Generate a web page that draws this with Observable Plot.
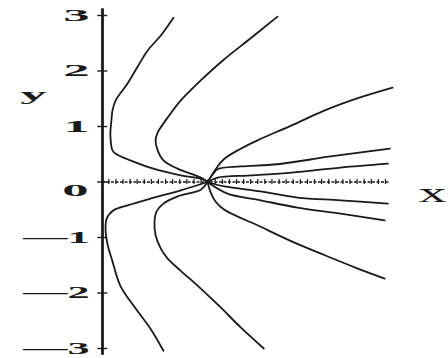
<!DOCTYPE html>
<html>
<head>
<meta charset="utf-8">
<script src="https://cdn.jsdelivr.net/npm/d3@7"></script>
<script src="https://cdn.jsdelivr.net/npm/@observablehq/plot@0.6"></script>
<style>
  html, body { margin: 0; padding: 0; background: #fff; }
  svg { display: block; background: #fff; }
</style>
</head>
<body>
<div id="chart"></div>
<script>
// Tick values and labels
const yTicks = [3, 2, 1, -1, -2, -3];
const yTickLabels = ["3", "2", "1", "—1", "—2", "—3"];
const zeroLabel = ["0"];
const xAxisLabel = ["x"];
const yAxisLabel = ["y"];
const xAxisExtent = [0, 5.47];
const xAxisTicks = d3.range(0.12, 5.47, 0.135);

// Solution curves, all meeting at (2, 0)
const curveA_x = [1.35, 1.11, 0.86, 0.67, 0.48, 0.25, 0.19, 0.17, 0.15, 0.19, 0.25, 0.53, 0.97, 1.49, 1.87, 2.0];
const curveA_y = [2.96, 2.64, 2.37, 2.08, 1.78, 1.47, 1.29, 1.11, 0.84, 0.57, 0.51, 0.39, 0.24, 0.12, 0.06, 0];
const curveB_x = [3.33, 2.82, 2.29, 1.87, 1.49, 1.24, 1.05, 1.01, 1.05, 1.16, 1.43, 1.87, 2.0];
const curveB_y = [2.98, 2.59, 2.19, 1.83, 1.47, 1.16, 0.89, 0.75, 0.57, 0.39, 0.24, 0.08, 0];
const curveC_x = [2.0, 1.49, 0.91, 0.48, 0.21, 0.08, 0.06, 0.10, 0.19, 0.34, 0.67, 0.91, 1.16];
const curveC_y = [0, -0.15, -0.30, -0.42, -0.51, -0.66, -0.89, -1.14, -1.43, -1.87, -2.33, -2.64, -3.04];
const curveD_x = [2.0, 1.87, 1.43, 1.16, 1.03, 0.99, 1.01, 1.11, 1.24, 1.49, 1.87, 2.25, 2.63, 3.07];
const curveD_y = [0, -0.14, -0.26, -0.39, -0.53, -0.71, -0.96, -1.20, -1.38, -1.60, -1.92, -2.26, -2.62, -3.0];
const curveE_x = [2.0, 2.08, 2.19, 2.32, 2.63, 2.95, 3.60, 4.23, 4.86, 5.52];
const curveE_y = [0, 0.12, 0.28, 0.42, 0.60, 0.75, 1.02, 1.29, 1.51, 1.70];
const curveF_x = [2.0, 2.10, 2.19, 2.63, 3.33, 4.34, 5.47];
const curveF_y = [0, 0.14, 0.23, 0.28, 0.32, 0.46, 0.60];
const curveG_x = [2.0, 2.19, 2.82, 3.60, 4.53, 5.43];
const curveG_y = [0, 0.08, 0.12, 0.17, 0.26, 0.33];
const curveH_x = [2.0, 2.32, 3.01, 3.71, 4.53, 5.43];
const curveH_y = [0, -0.08, -0.17, -0.28, -0.33, -0.39];
const curveI_x = [2.0, 2.38, 3.01, 3.71, 4.53, 5.37];
const curveI_y = [0, -0.21, -0.33, -0.46, -0.57, -0.69];
const curveJ_x = [2.0, 2.06, 2.15, 2.32, 2.95, 3.60, 4.23, 4.86, 5.37];
const curveJ_y = [0, -0.19, -0.35, -0.50, -0.78, -1.07, -1.32, -1.56, -1.74];

const curves = [
  ["A", curveA_x, curveA_y], ["B", curveB_x, curveB_y], ["C", curveC_x, curveC_y],
  ["D", curveD_x, curveD_y], ["E", curveE_x, curveE_y], ["F", curveF_x, curveF_y],
  ["G", curveG_x, curveG_y], ["H", curveH_x, curveH_y], ["I", curveI_x, curveI_y],
  ["J", curveJ_x, curveJ_y]
];
const rows = curves.flatMap(([name, xs, ys]) => xs.map((x, i) => ({curve: name, x, y: ys[i]})));

const ink = "#1a1a1a";
const font = "Liberation Serif";

const svg = Plot.plot({
  width: 448,
  height: 358,
  marginLeft: 102,
  marginRight: 57,
  marginTop: 15,
  marginBottom: 10,
  x: {domain: [0, 5.5], axis: null},
  y: {domain: [-3, 3], axis: null},
  style: {background: "#fff"},
  marks: [
    // x axis (dotted)
    Plot.ruleY([0], {x1: xAxisExtent[0], x2: xAxisExtent[1], stroke: ink, strokeWidth: 1.7, strokeDasharray: "3,1.5"}),
    Plot.ruleX(xAxisTicks, {x: d => d, y1: -0.045, y2: 0.045, stroke: ink, strokeWidth: 1.2}),
    // y axis
    Plot.ruleX([0], {y1: -3.12, y2: 3.12, stroke: ink, strokeWidth: 2.8}),
    Plot.ruleY(yTicks.concat([0]), {y: d => d, x1: -0.09, x2: 0.1, stroke: ink, strokeWidth: 1.4}),
    // solution curves
    Plot.line(rows, {x: "x", y: "y", z: "curve", curve: "catmull-rom", stroke: ink, strokeWidth: 1.8}),
    // tick labels
    Plot.text(yTicks, {y: d => d, text: (d, i) => yTickLabels[i], frameAnchor: "left", dx: -13, textAnchor: "end",
      fontFamily: font, fontWeight: "bold", fontSize: 17, fill: ink}),
    Plot.text(zeroLabel, {y: () => 0, text: d => d, frameAnchor: "left", dx: -14, dy: 8.5, textAnchor: "end",
      fontFamily: font, fontWeight: "bold", fontSize: 17, fill: ink}),
    // axis labels
    Plot.text(yAxisLabel, {text: d => d, frameAnchor: "left", dx: -69, dy: -87, textAnchor: "middle",
      fontFamily: font, fontWeight: "bold", fontSize: 17, fill: ink}),
    Plot.text(xAxisLabel, {text: d => d, frameAnchor: "right", dx: 41, dy: 11, textAnchor: "middle",
      fontFamily: font, fontSize: 28, fill: ink})
  ]
});

// Stretch the text horizontally like the scanned original
d3.select(svg).selectAll("text").each(function () {
  const t = this;
  const txt = t.textContent;
  const s = txt === "x" ? 2.0 : txt.length > 1 ? 2.6 : 3.1;
  let tr = t.getAttribute("transform");
  if (!tr) {
    const x = +t.getAttribute("x") || 0, y = +t.getAttribute("y") || 0;
    t.removeAttribute("x");
    t.removeAttribute("y");
    tr = `translate(${x},${y})`;
  }
  t.setAttribute("transform", tr + ` scale(${s},1)`);
});

document.getElementById("chart").appendChild(svg);
</script>
</body>
</html>
